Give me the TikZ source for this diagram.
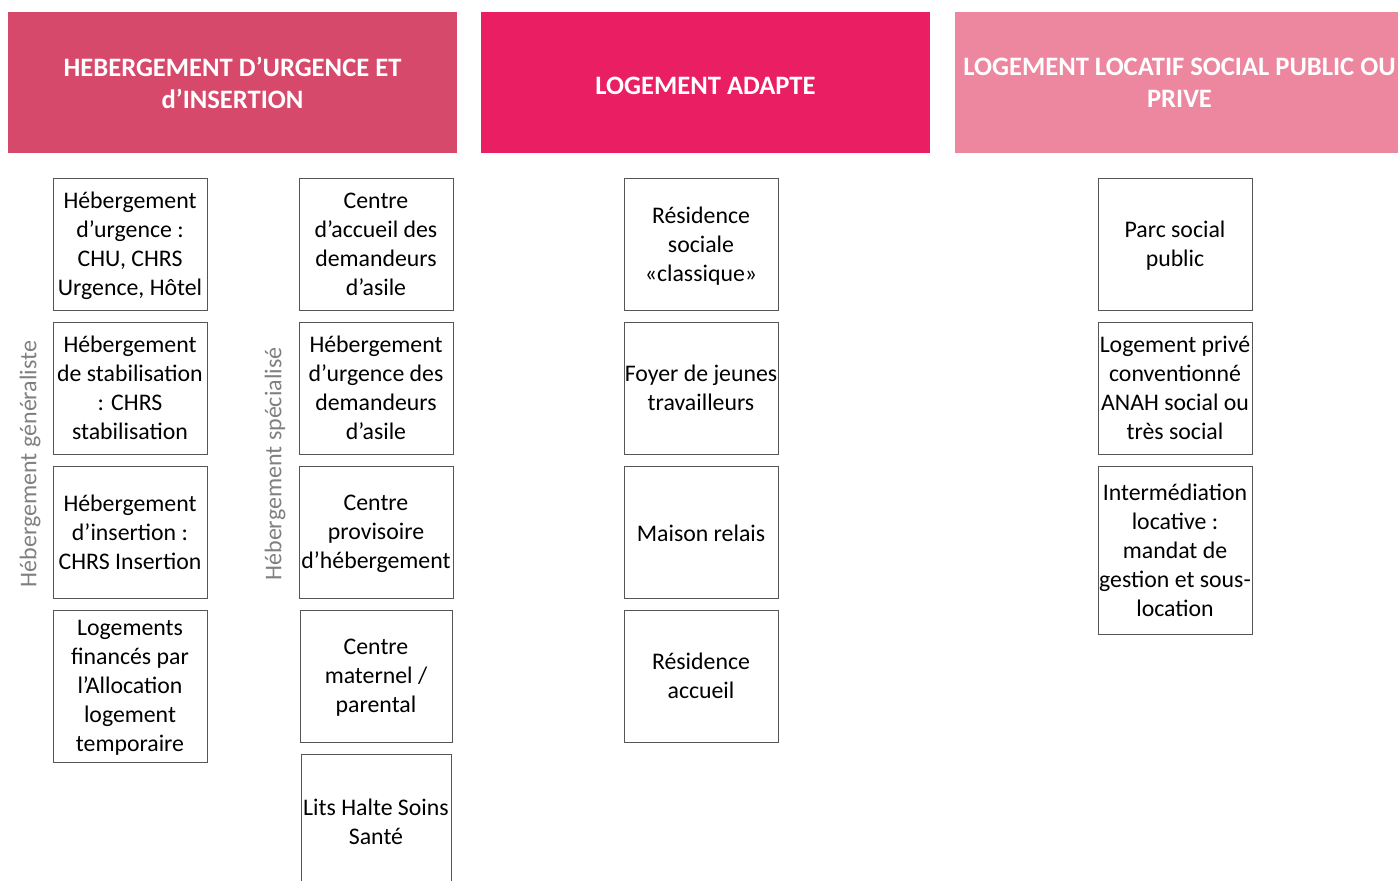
\documentclass[tikz,border=0pt]{standalone}
\usepackage{fontspec}
\setmainfont{Carlito}
\usepackage{tikz}
\usetikzlibrary{positioning}
\definecolor{urgence}{HTML}{D6496B}
\definecolor{adapte}{HTML}{E91E63}
\definecolor{locatif}{HTML}{ED869F}
\definecolor{cadre}{HTML}{555555}
\tikzset{
	header/.style = {
			fill            = #1,
			minimum width   = 449pt,
			minimum height  = 141pt,
			inner sep       = 0pt,
			text            = white,
			align           = center,
			font            = \fontsize{26.6}{32}\selectfont\bfseries,
			text depth      = -9pt,
			execute at begin node = {\rule{0pt}{24pt}},
			execute at end node   = {\rule[-1pt]{0pt}{1pt}},
		},
	dispositif/.style = {
			draw            = cadre,
			line width      = 0.9pt,
			minimum width   = 154pt,
			minimum height  = 132pt,
			inner sep       = 0pt,
			align           = center,
			font            = \fontsize{23.8}{29}\selectfont,
			text depth      = -8pt,
			execute at begin node = {\rule{0pt}{24pt}},
			execute at end node   = {\rule[-6pt]{0pt}{6pt}},
		},
	une ligne/.style = {text depth = #1},
	famille/.style = {
			rotate          = 90,
			text            = gray,
			font            = \fontsize{24}{29}\selectfont,
		}
}

\begin{document}
\begin{tikzpicture}[x=1pt, y=-1pt]
		\clip (0,0) rectangle (1398,881);

		\node[header=urgence] at (232.5,82.5) (hudi) {HEBERGEMENT D’URGENCE ET\\d’INSERTION};
		\node[header=adapte, une ligne=1pt] at (705.5,82.5) (adapte) {LOGEMENT ADAPTE};
		\node[header=locatif] at (1179.5,82.5) (locatif) {LOGEMENT LOCATIF SOCIAL PUBLIC OU\\PRIVE};

		\node[famille] at (30,464) (generaliste) {Hébergement généraliste};
		\node[famille] at (275,464) (specialise) {Hébergement spécialisé};

		\node[dispositif] at (130,244) (urgence) {Hébergement\\d’urgence :\\CHU, CHRS\\Urgence, Hôtel};
		\node[dispositif] at (130,388) (stabilisation) {Hébergement\\de stabilisation\\: CHRS\\stabilisation};
		\node[dispositif] at (130,532) (insertion) {Hébergement\\d’insertion :\\CHRS Insertion};
		\node[dispositif, minimum height=152pt] at (130,686) (alt) {Logements\\financés par\\l’Allocation\\logement\\temporaire};

		\node[dispositif] at (376,244) (cada) {Centre\\d’accueil des\\demandeurs\\d’asile};
		\node[dispositif] at (376,388) (huda) {Hébergement\\d’urgence des\\demandeurs\\d’asile};
		\node[dispositif] at (376,532) (cph) {Centre\\provisoire\\d’hébergement};
		\node[dispositif, minimum width=152pt] at (376,676) (maternel) {Centre\\maternel /\\parental};
		\node[dispositif, minimum width=150pt, minimum height=136pt] at (376,822) (lhss) {Lits Halte Soins\\Santé};

		\node[dispositif] at (701,244) (residence) {Résidence\\sociale\\«classique»};
		\node[dispositif] at (701,388) (fjt) {Foyer de jeunes\\travailleurs};
		\node[dispositif, une ligne=6pt] at (701,532) (relais) {Maison relais};
		\node[dispositif] at (701,676) (accueil) {Résidence\\accueil};

		\node[dispositif] at (1175,244) (parc) {Parc social\\public};
		\node[dispositif] at (1175,388) (anah) {Logement privé\\conventionné\\ANAH social ou\\très social};
		\node[dispositif, minimum height=168pt] at (1175,550) (iml) {Intermédiation\\locative :\\mandat de\\gestion et sous-\\location};
	\end{tikzpicture}
\end{document}
